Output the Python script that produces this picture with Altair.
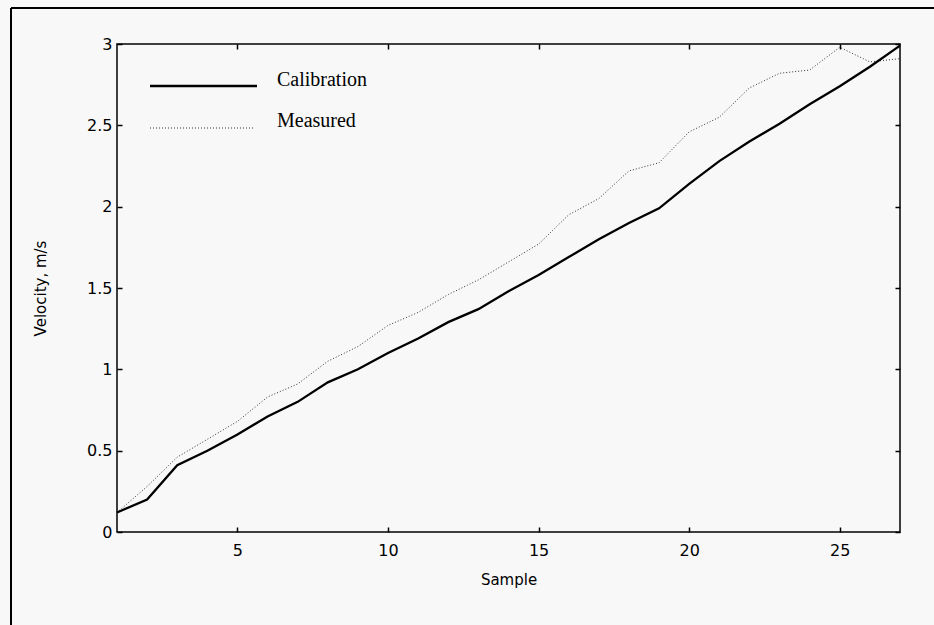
import altair as alt
import pandas as pd

samples = list(range(1, 28))
calibration = [0.12, 0.20, 0.41, 0.50, 0.60, 0.71, 0.80, 0.92, 1.00, 1.10, 1.19, 1.29, 1.37, 1.48,
               1.58, 1.69, 1.80, 1.90, 1.99, 2.14, 2.28, 2.40, 2.51, 2.63, 2.74, 2.86, 2.99]
measured = [0.12, 0.28, 0.46, 0.57, 0.68, 0.83, 0.91, 1.05, 1.14, 1.27, 1.35, 1.46, 1.55, 1.66,
            1.77, 1.95, 2.05, 2.22, 2.27, 2.46, 2.55, 2.73, 2.82, 2.84, 2.98, 2.89, 2.91]
x_ticks = [5, 10, 15, 20, 25]
y_ticks = [0, 0.5, 1, 1.5, 2, 2.5, 3]
legend_labels = ["Calibration", "Measured"]

W, H = 783, 488
LABEL_FONT = "DejaVu Sans"

df = pd.DataFrame({
    "Sample": samples * 2,
    "Velocity": calibration + measured,
    "Series": ["Calibration"] * len(samples) + ["Measured"] * len(samples),
})
one = pd.DataFrame({"k": [0]})

xs = alt.Scale(domain=[1, 27], nice=False, zero=False)
ys = alt.Scale(domain=[0, 3], nice=False, zero=False)

def tick_axis(orient, vals):
    return alt.Axis(orient=orient, values=vals, labels=False, domain=False, grid=False,
                    ticks=True, tickSize=5, tickWidth=1.5, tickColor="black",
                    offset=-5, title=None)

x_label_axis = alt.Axis(orient="bottom", values=x_ticks, tickSize=0, ticks=False, domain=False,
                        grid=False, labelPadding=10, labelFontSize=16, labelFont=LABEL_FONT,
                        labelColor="black", title="Sample", titleX=W / 2, titleY=47,
                        titleBaseline="middle", titleFontWeight="normal", titleFontSize=15,
                        titleFont=LABEL_FONT, titleColor="black")
y_label_axis = alt.Axis(orient="left", values=y_ticks, format="~g", tickSize=0, ticks=False,
                        domain=False, grid=False, labelPadding=5, labelFontSize=16,
                        labelFont=LABEL_FONT, labelColor="black", title="Velocity, m/s",
                        titleX=-77, titleY=H / 2, titleAngle=-90, titleAlign="center",
                        titleBaseline="middle", titleFontWeight="normal", titleFontSize=15,
                        titleFont=LABEL_FONT, titleColor="black")

cal_line = alt.Chart(df).transform_filter(alt.datum.Series == "Calibration").mark_line(
    color="black", strokeWidth=2.3).encode(
    x=alt.X("Sample:Q", scale=xs, axis=x_label_axis),
    y=alt.Y("Velocity:Q", scale=ys, axis=y_label_axis),
)
meas_line = alt.Chart(df).transform_filter(alt.datum.Series == "Measured").mark_line(
    color="#333333", strokeWidth=1, strokeDash=[1, 2]).encode(
    x=alt.X("Sample:Q", scale=xs, axis=tick_axis("bottom", x_ticks)),
    y=alt.Y("Velocity:Q", scale=ys, axis=tick_axis("left", y_ticks)),
)
ghost = alt.Chart(df).mark_point(opacity=0).encode(
    x=alt.X("Sample:Q", scale=xs, axis=tick_axis("top", x_ticks)),
    y=alt.Y("Velocity:Q", scale=ys, axis=tick_axis("right", y_ticks)),
)

leg_cal_line = alt.Chart(one).mark_rule(color="black", strokeWidth=2.3).encode(
    x=alt.value(33), x2=alt.value(140), y=alt.value(42))
leg_meas_line = alt.Chart(one).mark_rule(color="#333333", strokeWidth=1, strokeDash=[1, 2]).encode(
    x=alt.value(33), x2=alt.value(137), y=alt.value(84))
leg_cal_text = alt.Chart(one).mark_text(align="left", baseline="middle", font="Liberation Serif",
                                        fontSize=20, color="black").encode(
    x=alt.value(160), y=alt.value(36), text=alt.value(legend_labels[0]))
leg_meas_text = alt.Chart(one).mark_text(align="left", baseline="middle", font="Liberation Serif",
                                         fontSize=20, color="black").encode(
    x=alt.value(160), y=alt.value(77), text=alt.value(legend_labels[1]))

frame_left = alt.Chart(one).mark_rule(color="black", strokeWidth=2).encode(
    x=alt.value(-106), y=alt.value(-36), y2=alt.value(581))
frame_top = alt.Chart(one).mark_rule(color="black", strokeWidth=2).encode(
    x=alt.value(-106), x2=alt.value(817), y=alt.value(-36))

chart = alt.layer(
    ghost, meas_line, cal_line, leg_cal_line, leg_meas_line, leg_cal_text, leg_meas_text,
    frame_left, frame_top,
).resolve_axis(x="independent", y="independent").properties(
    width=W, height=H,
    autosize=alt.AutoSizeParams(type="none"),
    padding={"left": 117, "top": 44, "right": 34, "bottom": 93},
    background="#f8f8f8",
).configure_view(stroke="black", strokeWidth=1.5)

chart.save("out.html", embed_options={"renderer": "svg", "actions": False})
